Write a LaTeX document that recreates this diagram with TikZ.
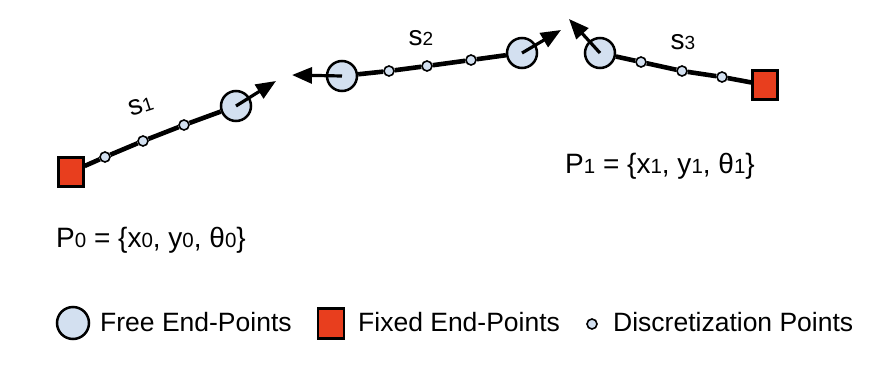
\documentclass[tikz,border=0pt]{standalone}
\usepackage{fontspec}
\setmainfont{Liberation Sans}
\usetikzlibrary{arrows.meta}
\definecolor{freefill}{HTML}{D3E0F0}
\definecolor{fixedfill}{HTML}{E83E1E}
\newcommand{\sbd}[1]{{\fontsize{19}{19}\selectfont #1}}
\newcommand{\sbp}[1]{{\fontsize{20.5}{20.5}\selectfont #1}}
\tikzset{
  freept/.style={circle, draw=black, line width=2.5pt, fill=freefill, minimum size=30pt, inner sep=0pt},
  fixedpt/.style={rectangle, draw=black, line width=2.2pt, fill=fixedfill, minimum width=25pt, minimum height=29pt, inner sep=0pt},
  discpt/.style={circle, draw=black, line width=1.6pt, fill=freefill, minimum size=10pt, inner sep=0pt},
  curveline/.style={line width=4.6pt},
  dirarrow/.style={line width=3.2pt, -{Triangle[length=20pt, width=16pt]}},
  lbl/.style={font=\fontsize{26.5}{26.5}\selectfont, inner sep=0pt},
  plbl/.style={font=\fontsize{28}{28}\selectfont, inner sep=0pt},
  slbl/.style={font=\fontsize{28}{28}\selectfont, inner sep=0pt},
}
\begin{document}
\begin{tikzpicture}[x=1pt, y=-1pt]
\useasboundingbox (0,0) rectangle (884,389);
% segment 1
\node[fixedpt] (q0) at (71,172) {};
\node[discpt] (a1) at (105,157) {};
\node[discpt] (a2) at (143,141) {};
\node[discpt] (a3) at (184,125) {};
\node[freept] (c1) at (236,106) {};
\draw[curveline] (q0) -- (a1) -- (a2) -- (a3) -- (c1);
\coordinate (t1) at (276,81);
\draw[dirarrow] (c1.center) -- (t1);
\node[slbl, rotate=18] (s1) at (141,106) {s\sbd{1}};
% segment 2
\node[freept] (c2) at (342,76) {};
\node[discpt] (b1) at (389,71) {};
\node[discpt] (b2) at (427,66) {};
\node[discpt] (b3) at (471,60) {};
\node[freept] (c3) at (522,53) {};
\draw[curveline] (c2) -- (b1) -- (b2) -- (b3) -- (c3);
\coordinate (t2) at (292,75);
\coordinate (t3) at (561,30);
\draw[dirarrow] (c2.center) -- (t2);
\draw[dirarrow] (c3.center) -- (t3);
\node[slbl] (s2) at (421,38) {s\sbd{2}};
% segment 3
\node[freept] (c4) at (600,53) {};
\node[discpt] (d1) at (641,62) {};
\node[discpt] (d2) at (682,71) {};
\node[discpt] (d3) at (722,77) {};
\node[fixedpt] (q1) at (765,85) {};
\draw[curveline] (c4) -- (d1) -- (d2) -- (d3) -- (q1);
\coordinate (t4) at (569,19);
\draw[dirarrow] (c4.center) -- (t4);
\node[slbl] (s3) at (683,42) {s\sbd{3}};
% pose labels
\node[plbl, anchor=base west] (p1) at (565,173) {P\sbp{1} = \{x\sbp{1}, y\sbp{1}, θ\sbp{1}\}};
\node[plbl, anchor=base west] (p0) at (56,247) {P\sbp{0} = \{x\sbp{0}, y\sbp{0}, θ\sbp{0}\}};
% legend
\node[freept, minimum size=32pt] (lg1) at (73,323) {};
\node[lbl, anchor=base west] (lt1) at (100,331) {Free End-Points};
\node[fixedpt, minimum width=26pt, minimum height=30pt] (lg2) at (331,323.5) {};
\node[lbl, anchor=base west] (lt2) at (358,331) {Fixed End-Points};
\node[discpt] (lg3) at (592,324) {};
\node[lbl, anchor=base west] (lt3) at (613,331) {Discretization Points};
\end{tikzpicture}
\end{document}
